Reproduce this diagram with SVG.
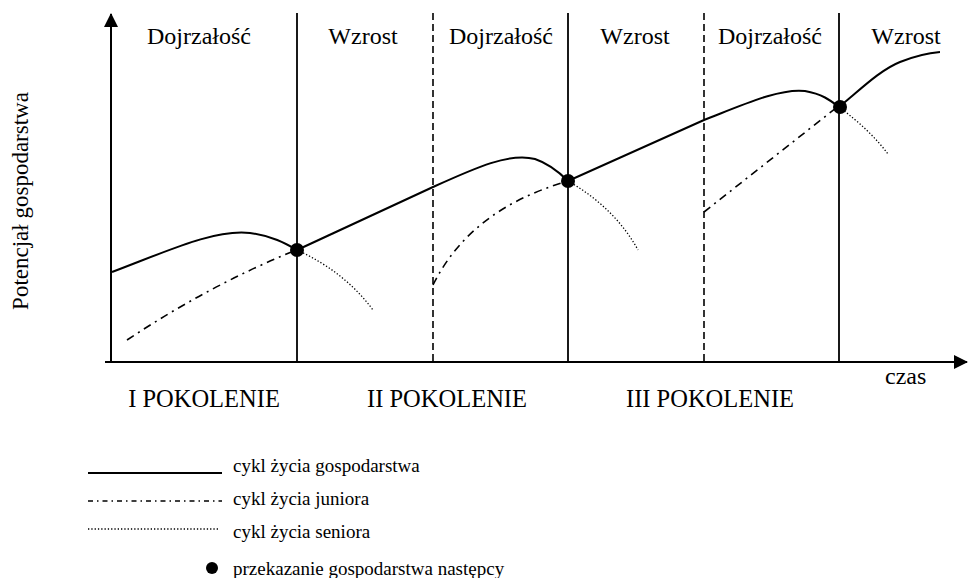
<svg xmlns="http://www.w3.org/2000/svg" width="968" height="578" viewBox="0 0 968 578">
<style>
text{font-family:"Liberation Serif","Times New Roman",serif;fill:#000}
.ph{font-size:24px;text-anchor:middle}
.gen{font-size:24.5px;text-anchor:middle}
.leg{font-size:19px}
.ax{stroke:#000;stroke-width:2;fill:none}
.sol{stroke:#000;stroke-width:1.8;fill:none}
.dsh{stroke:#000;stroke-width:1.6;fill:none;stroke-dasharray:7,4}
.farm{stroke:#000;stroke-width:2;fill:none}
.jun{stroke:#000;stroke-width:1.6;fill:none;stroke-dasharray:8,5,2,5}
.sen{stroke:#000;stroke-width:1.3;fill:none;stroke-dasharray:1.3,2}
.dot{fill:#000}
</style>
<defs>
<marker id="arr" markerWidth="14" markerHeight="14" refX="13" refY="7" orient="auto" markerUnits="userSpaceOnUse">
<path d="M0,0 L14,7 L0,14 Z" fill="#000"/>
</marker>
</defs>
<g id="axes">
<line class="ax" x1="111" y1="362" x2="111" y2="14" marker-end="url(#arr)"/>
<line class="ax" x1="105" y1="362" x2="967" y2="362" marker-end="url(#arr)"/>
</g>
<g id="dividers">
<line class="sol" x1="297" y1="13" x2="297" y2="362"/>
<line class="dsh" x1="433" y1="13" x2="433" y2="362"/>
<line class="sol" x1="568" y1="13" x2="568" y2="362"/>
<line class="dsh" x1="704" y1="13" x2="704" y2="362"/>
<line class="sol" x1="839" y1="13" x2="839" y2="362"/>
</g>
<g id="phase-labels">
<text class="ph" x="199" y="44">Dojrzałość</text>
<text class="ph" x="363" y="44">Wzrost</text>
<text class="ph" x="501" y="44">Dojrzałość</text>
<text class="ph" x="635" y="44">Wzrost</text>
<text class="ph" x="770" y="44">Dojrzałość</text>
<text class="ph" x="906" y="44">Wzrost</text>
</g>
<g id="connectors">
<path class="farm" d="M112,272 C170,250 215,229 250,233 C272,236 285,243 297,250 L433,187 C475,168 510,152 535,159 C550,164 560,173 568,181 L704,120 C745,104 780,88 805,91 C822,94 830,100 839,107 C860,90 880,70 900,62 C915,56 928,53 940,52"/>
<path class="jun" d="M127,340 Q210,285 294,251"/>
<path class="jun" d="M433,285 Q470,210 565,182"/>
<path class="jun" d="M704,212 L836,108"/>
<path class="sen" d="M297,250 Q345,272 373,310"/>
<path class="sen" d="M568,181 Q615,208 638,250"/>
<path class="sen" d="M839,107 Q870,130 888,154"/>
</g>
<g id="nodes">
<circle class="dot" cx="297" cy="250" r="7"/>
<circle class="dot" cx="568" cy="181" r="7"/>
<circle class="dot" cx="840" cy="107" r="7"/>
</g>
<g id="axis-labels">
<text class="ph" transform="translate(28,201) rotate(-90)" style="font-size:23px">Potencjał gospodarstwa</text>
<text x="885" y="384" style="font-size:24px">czas</text>
</g>
<g id="generations">
<text class="gen" x="204" y="407">I POKOLENIE</text>
<text class="gen" x="447" y="407">II POKOLENIE</text>
<text class="gen" x="710" y="407">III POKOLENIE</text>
</g>
<g id="legend">
<line class="farm" x1="88" y1="473" x2="222" y2="473"/>
<text class="leg" x="233" y="472">cykl życia gospodarstwa</text>
<line class="jun" x1="88" y1="501" x2="222" y2="501" style="stroke-dasharray:5,4,1.5,4"/>
<text class="leg" x="233" y="505">cykl życia juniora</text>
<line class="sen" x1="88" y1="529" x2="219" y2="529"/>
<text class="leg" x="233" y="538">cykl życia seniora</text>
<circle class="dot" cx="212" cy="568" r="6"/>
<text class="leg" x="233" y="575">przekazanie gospodarstwa następcy</text>
</g>
</svg>
